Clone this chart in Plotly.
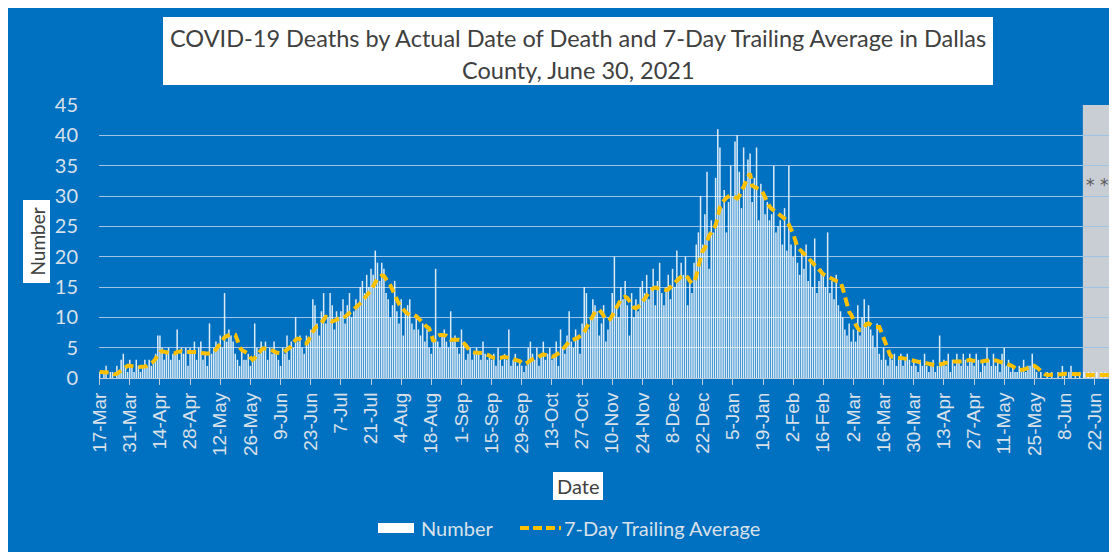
import pandas as pd
import plotly.graph_objects as go

# ---------------- data ----------------
start_date = "2020-03-17"

daily_deaths = [
    1,0,1,2,0,1,1,
    0,2,1,3,4,2,1,
    3,2,1,3,2,1,2,
    3,2,3,2,3,4,7,
    7,5,3,4,5,3,4,
    4,8,3,5,4,5,2,
    5,4,6,3,5,6,3,
    4,2,9,4,5,6,5,
    7,5,14,6,8,7,6,
    4,3,2,5,3,3,4,
    2,3,9,5,4,6,5,
    6,3,5,4,6,4,3,
    2,5,4,7,3,6,5,
    10,6,7,5,4,7,6,
    8,13,12,9,7,11,14,
    9,10,14,12,8,11,10,
    11,13,9,12,14,10,11,
    13,12,15,16,14,17,15,
    18,17,21,19,16,19,18,
    14,13,10,12,16,11,9,
    13,7,11,12,13,9,8,
    10,8,7,9,6,8,5,
    4,7,18,6,5,7,8,
    6,5,11,6,7,5,4,
    8,6,3,4,5,3,4,
    5,4,3,6,4,3,4,
    3,4,2,5,3,2,4,
    3,8,2,3,4,2,3,
    2,1,2,5,6,4,3,
    5,2,4,6,3,4,5,
    3,4,6,2,8,5,4,
    7,11,6,5,8,7,4,
    9,15,14,8,10,13,12,
    11,7,9,12,6,8,10,
    14,20,12,10,15,13,16,
    12,7,14,10,13,11,15,
    16,14,17,13,15,18,12,
    16,19,14,12,15,17,13,
    18,15,21,16,19,17,20,
    12,16,14,19,22,24,30,
    22,27,34,18,26,24,33,
    41,38,28,31,24,29,35,
    30,39,40,34,28,38,32,
    36,37,29,33,38,26,32,
    30,27,29,26,27,35,24,
    25,26,22,28,21,35,22,
    20,23,19,17,21,18,22,
    16,19,15,23,14,16,18,
    17,15,24,14,16,13,17,
    12,11,10,8,7,9,6,
    8,6,12,7,10,13,9,
    12,8,7,5,9,4,3,
    5,3,2,4,3,4,2,
    3,4,2,3,4,3,2,
    3,2,1,3,2,4,2,
    1,2,3,1,2,7,2,
    3,2,4,1,3,2,4,
    3,2,4,3,2,4,3,
    2,4,3,1,3,2,5,
    3,2,4,2,3,1,4,
    5,2,3,1,2,1,1,
    2,1,3,1,2,2,4,
    2,1,0,1,0,0,1,
    0,1,0,0,1,0,2,
    1,0,1,2,0,1,0,
    1,0,1,0,1,0,1,
    0,1,0,1,0,1,0,
    0,
]

trailing_avg = [
    1.0,1.0,1.0,1.0,1.0,0.9,0.8,
    0.6,0.7,1.0,1.3,1.6,1.9,2.0,
    2.0,2.0,1.9,1.8,1.8,1.8,1.8,
    1.9,2.0,2.2,2.5,2.7,3.2,3.8,
    4.3,4.4,4.3,4.2,4.1,4.1,4.1,
    4.1,4.3,4.4,4.4,4.3,4.3,4.3,
    4.3,4.4,4.4,4.3,4.2,4.1,4.1,
    4.1,4.0,4.1,4.2,4.3,4.7,5.2,
    5.8,6.3,6.7,6.9,7.1,7.2,7.2,
    7.1,6.2,5.1,4.6,4.4,4.3,4.0,
    3.4,3.0,3.3,3.8,4.2,4.6,4.9,
    4.9,4.8,4.7,4.6,4.4,4.2,4.1,
    4.1,4.2,4.4,4.6,4.9,5.3,5.9,
    6.3,6.5,6.4,6.0,5.7,5.7,6.2,
    7.0,7.8,8.2,8.6,8.7,9.1,9.7,
    10.1,10.0,9.5,9.3,9.4,9.6,9.8,
    9.8,9.9,10.1,10.4,10.6,10.9,11.2,
    11.5,11.9,12.3,12.7,13.1,13.6,14.1,
    14.5,15.1,15.8,16.4,16.7,16.9,16.8,
    16.3,15.8,15.3,14.5,13.7,12.9,12.2,
    11.7,11.2,10.9,10.6,10.4,10.4,10.4,
    10.2,9.8,9.4,9.0,8.7,8.4,8.2,
    7.3,6.0,6.8,7.0,7.1,7.1,7.1,
    7.0,6.7,6.3,6.3,6.3,6.4,6.3,
    6.2,5.9,5.4,4.9,4.5,4.3,4.2,
    4.2,4.1,4.1,4.1,4.0,3.8,3.6,
    3.4,3.3,3.2,3.2,3.3,3.4,3.5,
    3.4,3.3,3.2,3.2,3.1,3.0,2.8,
    2.5,2.3,2.4,2.7,3.0,3.1,3.2,
    3.4,3.6,3.8,3.9,3.8,3.7,3.6,
    3.5,3.6,3.8,4.0,4.3,4.7,5.2,
    5.6,6.0,6.2,6.3,6.4,6.6,6.9,
    7.1,7.6,8.3,9.1,9.8,10.4,10.9,
    11.1,11.2,10.8,10.2,9.7,9.5,9.7,
    10.3,11.0,11.8,12.5,12.9,13.3,13.4,
    13.2,12.7,12.1,11.6,11.5,11.7,12.1,
    12.6,13.2,13.7,14.1,14.5,14.8,14.9,
    14.8,14.7,14.6,14.5,14.5,14.6,15.0,
    15.4,15.8,16.1,16.4,16.7,16.9,16.9,
    16.6,16.0,15.6,15.8,16.8,18.4,20.0,
    21.0,21.4,22.5,23.5,24.0,24.6,25.2,
    26.5,28.2,28.9,29.4,29.7,29.9,30.1,
    30.0,29.7,29.6,30.0,31.0,31.5,32.4,
    33.2,33.7,31.7,31.5,31.3,31.2,31.0,
    30.5,29.8,28.8,28.3,27.9,27.6,27.4,
    27.1,26.8,26.5,26.2,26.0,25.3,24.6,
    23.8,22.7,21.6,21.2,20.9,20.5,20.2,
    19.8,19.4,19.0,18.6,18.3,17.9,17.4,
    17.1,16.9,16.7,16.5,16.4,16.2,16.0,
    15.9,15.8,14.8,13.4,12.0,10.9,10.4,
    9.5,8.8,8.2,7.9,8.0,8.5,8.9,
    9.0,8.8,8.6,8.4,8.4,8.4,7.5,
    6.6,5.7,4.6,3.8,3.5,3.4,3.4,
    3.3,3.3,3.3,3.2,3.1,3.0,3.0,
    2.9,2.8,2.7,2.6,2.5,2.5,2.4,
    2.3,2.2,2.2,2.1,2.1,2.2,2.4,
    2.5,2.6,2.7,2.7,2.7,2.7,2.6,
    2.6,2.7,2.7,2.8,2.9,3.0,2.9,
    2.8,2.7,2.7,2.7,2.8,2.8,2.9,
    2.9,2.8,2.8,2.9,2.8,2.7,2.6,
    2.5,2.4,2.3,2.1,1.9,1.6,1.4,
    1.3,1.3,1.4,1.5,1.7,1.9,2.0,
    2.0,1.8,1.5,1.1,0.8,0.6,0.5,
    0.5,0.5,0.5,0.5,0.5,0.5,0.6,
    0.7,0.7,0.7,0.7,0.7,0.6,0.6,
    0.6,0.5,0.5,0.5,0.5,0.6,0.6,
    0.6,0.5,0.5,0.5,0.5,0.5,0.5,
    0.5,
]

title_line1 = "COVID-19 Deaths by Actual Date of Death and 7-Day Trailing Average in Dallas"
title_line2 = "County, June 30, 2021"
series_names = ["Number", "7-Day Trailing Average"]
incomplete_start = "2021-06-16 12:00"   # shaded (incomplete data) period
incomplete_end = "2021-06-29 12:00"
axis_end = "2021-06-30 12:00"

dates_bar = pd.date_range(start_date, periods=len(daily_deaths), freq="D")
dates_avg = pd.date_range(start_date, periods=len(trailing_avg), freq="D")

# ---------------- layout geometry ----------------
# page body has an 8px margin; coordinates below are in screenshot pixels
OFF = 8
W, H = 1117 - OFF, 552 - OFF
L, R, T, B = 99, 1113, 105, 378          # plot area in screenshot pixels
BLUE = "#0070C0"
YELLOW = "#FFC000"
LIGHT = "#D9E1EA"
TXT = "#404040"

def fx(px):
    return (px - L) / (R - L)

def fy(py):
    return (B - py) / (B - T)

fig = go.Figure()

fig.add_trace(go.Bar(
    x=dates_bar, y=daily_deaths, name=series_names[0],
    marker=dict(color="rgba(255,255,255,0.86)", line=dict(width=0)),
))
fig.add_trace(go.Scatter(
    x=dates_avg, y=trailing_avg, name=series_names[1], mode="lines",
    line=dict(color=YELLOW, width=4, dash="9px,5px"),
))

def box(x0, x1, y0, y1):
    return dict(type="rect", xref="paper", yref="paper", x0=fx(x0), x1=fx(x1),
                y0=fy(y1), y1=fy(y0), fillcolor="white", line=dict(width=0))

shapes = [
    # incomplete-data shading
    dict(type="rect", xref="x", yref="paper", x0=incomplete_start, x1=incomplete_end, y0=0, y1=1,
         fillcolor="#C9CED5", line=dict(width=0), layer="below"),
    box(163, 993, 17, 85),     # title box
    box(23, 50, 200, 283),     # y title box
    box(553, 603, 472, 500),   # x title box
    # legend swatches
    box(378, 414, 523, 533),
    dict(type="line", xref="paper", yref="paper", x0=fx(520), x1=fx(561), y0=fy(528), y1=fy(528),
         line=dict(color=YELLOW, width=4, dash="9px,4px")),
]

def label(text, x, y, size, color, xanchor="center", angle=0, family="Lato"):
    return dict(text=text, x=fx(x), y=fy(y), xref="paper", yref="paper",
                xanchor=xanchor, yanchor="middle", showarrow=False, textangle=angle,
                font=dict(family=family, size=size, color=color))

annotations = [
    label(title_line1, 578, 38, 23.5, TXT),
    label(title_line2, 578, 70, 23.5, TXT),
    label("Number", 37, 241.5, 19, TXT, angle=-90),
    label("Date", 578, 486, 20, TXT),
    label("* *", 1097, 185, 17, "#595959", family="DejaVu Sans"),
    label(series_names[0], 419, 528, 20, LIGHT, xanchor="left"),
    label(series_names[1], 562, 528, 20, LIGHT, xanchor="left"),
]

fig.update_layout(
    width=W, height=H,
    margin=dict(l=L - OFF, r=W - (R - OFF), t=T - OFF, b=H - (B - OFF), pad=0),
    paper_bgcolor=BLUE, plot_bgcolor="rgba(0,0,0,0)",
    bargap=0.3,
    shapes=shapes, annotations=annotations,
    showlegend=False,
    xaxis=dict(
        type="date",
        range=["2020-03-16 17:00", axis_end],
        tick0=start_date, dtick=14 * 86400000, tickformat="%-d-%b",
        tickangle=-90, ticks="outside", ticklen=6, tickcolor="#BFCBD8",
        tickfont=dict(family="Liberation Sans", size=19, color=LIGHT),
        showgrid=False, showline=True, linecolor="#BFCBD8", linewidth=1,
        zeroline=False,
    ),
    yaxis=dict(
        range=[0, 45], dtick=5, tick0=0,
        showgrid=True, gridcolor="#9DC3E6", gridwidth=1,
        zeroline=False, showline=False, ticks="",
        tickfont=dict(family="Lato", size=20, color=LIGHT),
        ticklabelstandoff=20,
    ),
)

fig.write_html("out.html")
